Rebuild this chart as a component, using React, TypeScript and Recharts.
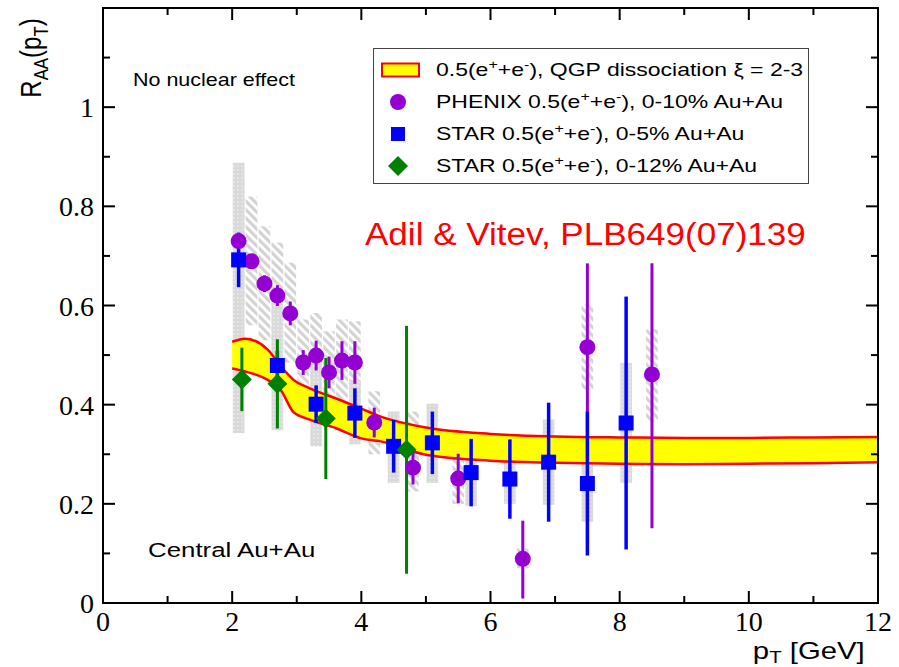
import React from "react";
import {
  ComposedChart,
  Area,
  Scatter,
  ErrorBar,
  XAxis,
  YAxis,
  ReferenceArea,
  Legend,
} from "recharts";

const xTicks = [0, 1, 2, 3, 4, 5, 6, 7, 8, 9, 10, 11, 12];
const yTicks = [0, 0.1, 0.2, 0.3, 0.4, 0.5, 0.6, 0.7, 0.8, 0.9, 1.0, 1.1];

// theory band: QGP dissociation, xi = 2-3
const bandPt = [2.0, 2.2, 2.55, 2.75, 2.95, 3.2, 3.6, 4.0, 4.3, 5.0, 6.0, 7.0, 8.0, 9.0, 10.0, 11.0, 12.0];
const bandLow = [0.473, 0.467, 0.45, 0.43, 0.385, 0.37, 0.353, 0.332, 0.326, 0.299, 0.287, 0.283, 0.281, 0.28, 0.281, 0.282, 0.284];
const bandHigh = [0.527, 0.533, 0.511, 0.478, 0.45, 0.433, 0.413, 0.392, 0.376, 0.354, 0.341, 0.336, 0.334, 0.333, 0.333, 0.334, 0.335];

// PHENIX 0-10%
const phenixPt = [2.1, 2.3, 2.5, 2.7, 2.9, 3.1, 3.3, 3.5, 3.7, 3.9, 4.2, 4.8, 5.5, 6.5, 7.5, 8.5];
const phenixRaa = [0.73, 0.689, 0.644, 0.62, 0.584, 0.485, 0.499, 0.465, 0.489, 0.485, 0.364, 0.273, 0.251, 0.089, 0.516, 0.461];
const phenixErrLo = [0.01, 0.01, 0.017, 0.021, 0.024, 0.025, 0.03, 0.032, 0.039, 0.043, 0.03, 0.034, 0.05, 0.08, 0.17, 0.31];
const phenixErrHi = [0.01, 0.01, 0.017, 0.021, 0.024, 0.025, 0.03, 0.032, 0.039, 0.043, 0.03, 0.034, 0.05, 0.077, 0.169, 0.224];
const phenixSysLo = [0.6, 0.56, 0.53, 0.51, 0.485, 0.4, 0.41, 0.38, 0.4, 0.4, 0.3, 0.225, 0.2, 0.07, 0.43, 0.366];
const phenixSysHi = [0.86, 0.82, 0.76, 0.727, 0.686, 0.572, 0.585, 0.548, 0.572, 0.568, 0.427, 0.386, 0.296, 0.11, 0.602, 0.552];

// STAR 0-5%
const starPt = [2.1, 2.7, 3.3, 3.9, 4.5, 5.1, 5.7, 6.3, 6.9, 7.5, 8.1];
const starRaa = [0.692, 0.479, 0.401, 0.383, 0.316, 0.323, 0.263, 0.25, 0.284, 0.241, 0.363];
const starErr = [0.055, 0.03, 0.038, 0.05, 0.053, 0.063, 0.068, 0.08, 0.12, 0.145, 0.255];
const starSysLo = [0.343, 0.349, 0.316, 0.32, 0.242, 0.242, 0.195, 0.2, 0.198, 0.164, 0.242];
const starSysHi = [0.888, 0.612, 0.485, 0.45, 0.386, 0.402, 0.333, 0.31, 0.37, 0.316, 0.484];

// STAR 0-12%
const star12Pt = [2.15, 2.7, 3.45, 4.7];
const star12Raa = [0.451, 0.442, 0.372, 0.309];
const star12Err = [0.064, 0.09, 0.122, 0.25];

const SYS_HALF = 0.09;

const PURPLE = "#9400d3";
const BLUE = "#0000ff";
const GREEN = "#008000";

// plot frame in page pixels (follows from the chart margins and axis sizes below)
const PLOT_LEFT = 103;
const PLOT_RIGHT = 878;
const PLOT_TOP = 8;
const PLOT_BOTTOM = 603;

const sans = "'Liberation Sans', Arial, Helvetica, sans-serif";
const serif = "'Liberation Serif', 'Times New Roman', serif";

const bandData = bandPt.map((x, i) => ({ x, range: [bandLow[i], bandHigh[i]] }));
const phenixData = phenixPt.map((x, i) => ({ x, y: phenixRaa[i], err: [phenixErrLo[i], phenixErrHi[i]] }));
const starData = starPt.map((x, i) => ({ x, y: starRaa[i], err: starErr[i] }));
const star12Data = star12Pt.map((x, i) => ({ x, y: star12Raa[i], err: star12Err[i] }));

const isMajorX = (v: number) => v % 2 === 0;
const isMajorY = (v: number) => Math.round(v * 10) % 2 === 0;
const fmtY = (v: number) => (Math.abs(v - 1) < 1e-9 ? "1" : String(Math.round(v * 10) / 10));

// ticks point inward, on all four sides of the frame
const BottomTick = ({ x, payload }: any) => {
  const major = isMajorX(payload.value);
  const len = major ? 12 : 7;
  return (
    <g>
      <line x1={x} x2={x} y1={PLOT_BOTTOM} y2={PLOT_BOTTOM - len} stroke="#000" strokeWidth={2} />
      <line x1={x} x2={x} y1={PLOT_TOP} y2={PLOT_TOP + len} stroke="#000" strokeWidth={2} />
      {major && (
        <text x={x} y={PLOT_BOTTOM + 28} textAnchor="middle" fontFamily={serif} fontSize={28} fill="#000">
          {payload.value}
        </text>
      )}
    </g>
  );
};

const LeftTick = ({ y, payload }: any) => {
  const major = isMajorY(payload.value);
  const len = major ? 12 : 7;
  return (
    <g>
      <line x1={PLOT_LEFT} x2={PLOT_LEFT + len} y1={y} y2={y} stroke="#000" strokeWidth={2} />
      <line x1={PLOT_RIGHT} x2={PLOT_RIGHT - len} y1={y} y2={y} stroke="#000" strokeWidth={2} />
      {major && (
        <text x={PLOT_LEFT - 9} y={y + 10} textAnchor="end" fontFamily={serif} fontSize={28} fill="#000">
          {fmtY(payload.value)}
        </text>
      )}
    </g>
  );
};

const circleShape = (props: any) => <circle cx={props.cx} cy={props.cy} r={8} fill={PURPLE} />;
const squareShape = (props: any) => (
  <rect x={props.cx - 7.5} y={props.cy - 7.5} width={15} height={15} fill={BLUE} />
);
const diamondShape = (props: any) => {
  const { cx, cy } = props;
  return <polygon points={`${cx},${cy - 10} ${cx + 10},${cy} ${cx},${cy + 10} ${cx - 10},${cy}`} fill={GREEN} />;
};

const Sup = ({ children }: { children: React.ReactNode }) => (
  <span style={{ fontSize: "0.7em", position: "relative", top: "-0.5em", lineHeight: 0 }}>{children}</span>
);
const Sub = ({ children, drop = 0.35 }: { children: React.ReactNode; drop?: number }) => (
  <span style={{ fontSize: "0.7em", position: "relative", top: `${drop}em`, lineHeight: 0 }}>{children}</span>
);
const Ee = () => (
  <>
    0.5(e<Sup>+</Sup>+e<Sup>-</Sup>)
  </>
);

const legendItems = [
  { marker: "band", before: "", after: ", QGP dissociation \u03be = 2-3" },
  { marker: "circle", before: "PHENIX ", after: ", 0-10% Au+Au" },
  { marker: "square", before: "STAR ", after: ", 0-5% Au+Au" },
  { marker: "diamond", before: "STAR ", after: ", 0-12% Au+Au" },
];

const LegendMarker = ({ kind }: { kind: string }) => (
  <svg width={44} height={24} style={{ position: "absolute", left: 4, top: 4 }}>
    {kind === "band" && <rect x={4} y={5.5} width={37} height={13} fill="#ffff00" stroke="#ff0000" strokeWidth={2} />}
    {kind === "circle" && <circle cx={20} cy={12} r={8} fill={PURPLE} />}
    {kind === "square" && <rect x={13} y={5} width={14} height={14} fill={BLUE} />}
    {kind === "diamond" && <polygon points="20,2 30,12 20,22 10,12" fill={GREEN} />}
  </svg>
);

const renderLegend = () => (
  <div
    style={{
      boxSizing: "border-box",
      width: 436,
      height: 136,
      border: "1.5px solid #444",
      background: "#fff",
      paddingTop: 5,
      fontFamily: sans,
      color: "#000",
    }}
  >
    {legendItems.map((it) => (
      <div key={it.marker} style={{ position: "relative", height: 32 }}>
        <LegendMarker kind={it.marker} />
        <div
          style={{
            position: "absolute",
            left: 62,
            top: 5,
            fontSize: 19,
            lineHeight: "22px",
            whiteSpace: "nowrap",
            transform: "scaleX(1.21)",
            transformOrigin: "left center",
          }}
        >
          {it.before}
          <Ee />
          {it.after}
        </div>
      </div>
    ))}
  </div>
);

const note = (left: number, baseline: number, size: number, stretch: number, color = "#000"): React.CSSProperties => ({
  position: "absolute",
  left,
  top: baseline - 0.8465 * size,
  fontFamily: sans,
  fontSize: size,
  lineHeight: 1,
  color,
  whiteSpace: "nowrap",
  transform: `scaleX(${stretch})`,
  transformOrigin: "left top",
});

export default function App() {
  return (
    <div style={{ position: "absolute", left: 0, top: 0, width: 899, height: 667, background: "#fff" }}>
      <svg width={0} height={0} style={{ position: "absolute" }}>
        <defs>
          <pattern id="phenixHatch" patternUnits="userSpaceOnUse" width={6} height={6} patternTransform="rotate(-45)">
            <rect x={0} y={0} width={3.2} height={6} fill="#d3d3d3" />
          </pattern>
          <pattern id="starHatch" patternUnits="userSpaceOnUse" width={4} height={4}>
            <rect x={0} y={0} width={4} height={4} fill="#d9d9d9" />
            <circle cx={2} cy={2} r={0.8} fill="#f2f2f2" />
          </pattern>
        </defs>
      </svg>

      <ComposedChart width={899} height={667} data={bandData} margin={{ top: PLOT_TOP, right: 899 - PLOT_RIGHT, bottom: 0, left: 0 }}>
        <XAxis
          dataKey="x"
          type="number"
          domain={[0, 12]}
          ticks={xTicks}
          interval={0}
          allowDataOverflow
          height={667 - PLOT_BOTTOM}
          tickLine={false}
          tick={BottomTick}
          axisLine={{ stroke: "#000", strokeWidth: 2 }}
        />
        <YAxis
          type="number"
          domain={[0, 1.2]}
          ticks={yTicks}
          interval={0}
          allowDataOverflow
          width={PLOT_LEFT}
          tickLine={false}
          tick={LeftTick}
          axisLine={{ stroke: "#000", strokeWidth: 2 }}
        />

        {phenixPt.map((pt, i) => (
          <ReferenceArea
            key={`ps${i}`}
            x1={pt - SYS_HALF}
            x2={pt + SYS_HALF}
            y1={phenixSysLo[i]}
            y2={phenixSysHi[i]}
            fill="url(#phenixHatch)"
            fillOpacity={1}
            stroke="none"
            ifOverflow="visible"
          />
        ))}
        {starPt.map((pt, i) => (
          <ReferenceArea
            key={`ss${i}`}
            x1={pt - SYS_HALF}
            x2={pt + SYS_HALF}
            y1={starSysLo[i]}
            y2={starSysHi[i]}
            fill="url(#starHatch)"
            fillOpacity={1}
            stroke="none"
            ifOverflow="visible"
          />
        ))}

        <Area
          dataKey="range"
          type="monotone"
          stroke="#ff0000"
          strokeWidth={2.5}
          fill="#ffff00"
          fillOpacity={1}
          isAnimationActive={false}
          dot={false}
          activeDot={false}
        />

        <Scatter name="PHENIX" data={phenixData} dataKey="y" shape={circleShape} isAnimationActive={false}>
          <ErrorBar dataKey="err" direction="y" width={0} stroke={PURPLE} strokeWidth={3} />
        </Scatter>
        <Scatter name="STAR 0-5%" data={starData} dataKey="y" shape={squareShape} isAnimationActive={false}>
          <ErrorBar dataKey="err" direction="y" width={0} stroke={BLUE} strokeWidth={3.5} />
        </Scatter>
        <Scatter name="STAR 0-12%" data={star12Data} dataKey="y" shape={diamondShape} isAnimationActive={false}>
          <ErrorBar dataKey="err" direction="y" width={0} stroke={GREEN} strokeWidth={3} />
        </Scatter>

        {/* plot frame */}
        <ReferenceArea x1={0} x2={12} y1={0} y2={1.2} fill="none" stroke="#000" strokeWidth={2} ifOverflow="visible" />

        <Legend
          layout="vertical"
          align="center"
          verticalAlign="middle"
          wrapperStyle={{ left: 373, top: 48, width: 436, height: 136 }}
          content={renderLegend}
        />
      </ComposedChart>

      <div style={note(133, 87, 18.5, 1.16)}>No nuclear effect</div>
      <div style={note(148, 557, 20.5, 1.26)}>Central Au+Au</div>
      <div style={note(365, 245, 31, 1.13, "#ff0000")}>Adil &amp; Vitev, PLB649(07)139</div>

      <div
        style={{
          position: "absolute",
          right: 34,
          top: 659 - 0.8465 * 24,
          fontFamily: sans,
          fontSize: 24,
          lineHeight: 1,
          whiteSpace: "nowrap",
          transform: "scaleX(1.22)",
          transformOrigin: "right top",
        }}
      >
        p<Sub drop={0.25}>T</Sub> [GeV]
      </div>

      <div
        style={{
          position: "absolute",
          left: 31,
          top: 58,
          fontFamily: sans,
          fontSize: 24,
          lineHeight: 1,
          whiteSpace: "nowrap",
          transform: "translate(-50%, -50%) rotate(-90deg) scaleY(1.2)",
        }}
      >
        R<Sub>AA</Sub>(p<Sub>T</Sub>)
      </div>
    </div>
  );
}
